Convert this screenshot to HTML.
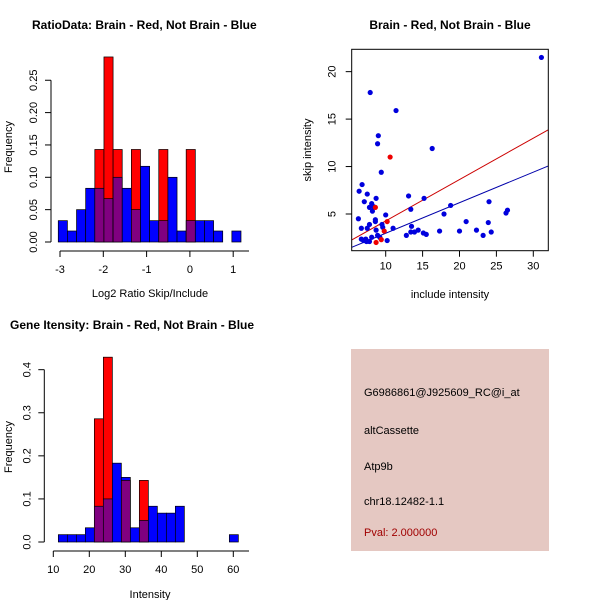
<!DOCTYPE html>
<html><head><meta charset="utf-8"><style>
body{margin:0;background:#fff}
svg{display:block;font-family:"Liberation Sans",Arial,sans-serif}
</style></head><body>
<svg id="c" width="600" height="600">
<g id="p1"></g>
<g id="p2"></g>
<g id="p3"></g>
<g>
<rect x="351" y="349" width="198" height="202" fill="#e5c8c2"/>
<text x="364" y="396" font-size="11">G6986861@J925609_RC@i_at</text>
<text x="364" y="434" font-size="11">altCassette</text>
<text x="364" y="470" font-size="11">Atp9b</text>
<text x="364" y="505" font-size="11">chr18.12482-1.1</text>
<text x="364" y="536" font-size="11" fill="#a00000">Pval: 2.000000</text>
</g>
</svg>
<script>
// Ratio histogram data
const ratioStart = -3.04;
const ratioWidth = 0.211;
const ratioBlue = [0.033,0.017,0.05,0.083,0.083,0.067,0.10,0.083,0.05,0.117,0.033,0.033,0.10,0.017,0.033,0.033,0.033,0.017,0,0.017];
const ratioRed  = [0,0,0,0,0.143,0.286,0.143,0,0.143,0,0,0.143,0,0,0.143,0,0,0,0,0];
const ratioXTicks = [-3,-2,-1,0,1];
const ratioYTicks = ["0.00","0.05","0.10","0.15","0.20","0.25"];
// Intensity histogram data
const intStart = 11.4;
const intWidth = 2.5;
const intBlue = [0.017,0.017,0.017,0.033,0.083,0.10,0.183,0.15,0.033,0.05,0.083,0.067,0.067,0.083,0,0,0,0,0,0.017];
const intRed  = [0,0,0,0,0.286,0.429,0,0.143,0,0.143,0,0,0,0,0,0,0,0,0,0];
const intXTicks = [10,20,30,40,50,60];
const intYTicks = ["0.0","0.1","0.2","0.3","0.4"];
// Scatter data
const blueX = [31.1,7.9,11.4,9.0,8.9,16.3,9.4,6.8,6.4,7.5,7.1,8.7,13.1,15.2,24.0,18.8,8.1,8.3,7.8,8.2,13.4,17.9,10.0,26.3,26.5,6.3,8.6,8.6,20.9,23.9,7.8,9.5,9.6,13.5,11.0,6.7,7.5,8.7,14.4,22.3,17.3,20.0,24.3,13.9,13.4,15.1,15.5,12.8,23.2,8.9,8.1,9.2,6.7,7.3,7.4,7.8,10.2,7.0];
const blueY = [21.5,17.8,15.9,13.25,12.4,11.9,9.4,8.1,7.4,7.1,6.3,6.65,6.9,6.65,6.3,5.9,6.1,5.8,5.7,5.3,5.5,5.0,4.9,5.1,5.4,4.5,4.4,4.2,4.2,4.1,3.9,3.9,3.6,3.7,3.5,3.5,3.5,3.3,3.3,3.3,3.2,3.2,3.1,3.1,3.1,3.0,2.85,2.75,2.75,2.75,2.55,2.55,2.35,2.35,2.1,2.1,2.2,2.2];
const redX = [10.6,8.6,10.2,9.8,9.4,8.7];
const redY = [11.0,5.7,4.2,3.2,2.3,2.0];
const redFit = [-0.09,0.436];
const blueFit = [-0.25,0.322];
const scXTicks = [10,15,20,25,30];
const scYTicks = [5,10,15,20];

const NS="http://www.w3.org/2000/svg";
function mk(parent,tag,attrs,txt){const e=document.createElementNS(NS,tag);for(const k in attrs)e.setAttribute(k,attrs[k]);if(txt!==undefined)e.textContent=txt;parent.appendChild(e);return e;}

function hist(g,o){
  const sx=v=>o.x0+(v-o.v0)*o.kx, sy=v=>o.y0-v*o.ky;
  for(let i=0;i<o.blue.length;i++){
    const a=o.start+i*o.w, b=a+o.w, bl=o.blue[i], rd=o.red[i];
    const x=sx(a), wd=sx(b)-sx(a);
    const hi=Math.max(bl,rd), lo=Math.min(bl,rd);
    if(hi>0){
      const r=mk(g,'rect',{x:x,y:sy(hi),width:wd,height:sy(0)-sy(hi),fill:bl>=rd?'#0000ff':'#ff0000',stroke:'#000','stroke-width':0.7});
      
      
    }
    if(lo>0){
      const r=mk(g,'rect',{x:x,y:sy(lo),width:wd,height:sy(0)-sy(lo),fill:'#800080',stroke:'#000','stroke-width':0.7});
      
      
    }
  }
  const xa=mk(g,'g',{});
  
  
  const ay=o.y0+9;
  mk(xa,'line',{x1:sx(o.xt[0]),x2:sx(o.xt[o.xt.length-1]),y1:ay,y2:ay,stroke:'#000'});
  o.xt.forEach(t=>{mk(xa,'line',{x1:sx(t),x2:sx(t),y1:ay,y2:ay+6,stroke:'#000'});
    const l=mk(xa,'text',{x:sx(t),y:ay+22,'font-size':11,'text-anchor':'middle'},t);
    
    });
  mk(xa,'line',{x1:sx(o.xt[o.xt.length-1]),x2:o.xEnd,y1:ay,y2:ay,stroke:'#000'});
  const ya=mk(g,'g',{});
  
  
  const ax=o.x0-9;
  const yv=o.yt.map(Number);
  mk(ya,'line',{x1:ax,x2:ax,y1:sy(0),y2:sy(yv[yv.length-1]),stroke:'#000'});
  o.yt.forEach((t,i)=>{const y=sy(yv[i]);mk(ya,'line',{x1:ax-6,x2:ax,y1:y,y2:y,stroke:'#000'});
    const l=mk(ya,'text',{x:ax-14,y:y,'font-size':11,'text-anchor':'middle',transform:`rotate(-90 ${ax-14} ${y})`},t);
    
    });
}

const p1=document.getElementById('p1');
hist(p1,{x0:60,v0:-3,kx:43.3,y0:242,ky:647,start:ratioStart,w:ratioWidth,blue:ratioBlue,red:ratioRed,xt:ratioXTicks,yt:ratioYTicks,xEnd:249});
const p3=document.getElementById('p3');
hist(p3,{x0:53.3,v0:10,kx:3.6,y0:542,ky:430.8,start:intStart,w:intWidth,blue:intBlue,red:intRed,xt:intXTicks,yt:intYTicks,xEnd:249});

function txt(g,a,s,name){const t=mk(g,'text',a,s);return t;}
txt(p1,{x:32,y:29,'font-size':12,'font-weight':'bold'},'RatioData: Brain - Red, Not Brain - Blue','chart-title');
txt(p1,{x:150,y:297,'font-size':11,'text-anchor':'middle'},'Log2 Ratio Skip/Include','x-axis-title');
txt(p1,{x:12,y:147,'font-size':11,'text-anchor':'middle',transform:'rotate(-90 12 147)'},'Frequency','y-axis-title');
txt(p3,{x:10,y:329,'font-size':12,'font-weight':'bold'},'Gene Itensity: Brain - Red, Not Brain - Blue','chart-title');
txt(p3,{x:150,y:598,'font-size':11,'text-anchor':'middle'},'Intensity','x-axis-title');
txt(p3,{x:12,y:447,'font-size':11,'text-anchor':'middle',transform:'rotate(-90 12 447)'},'Frequency','y-axis-title');

// scatter
const p2=document.getElementById('p2');
const L=351.7,R=548.3,T=49.3,B=250.7;
const sx=v=>385.7+(v-10)*7.38, sy=v=>214-(v-5)*9.49;
txt(p2,{x:450,y:29,'font-size':12,'font-weight':'bold','text-anchor':'middle'},'Brain - Red, Not Brain - Blue','chart-title');
txt(p2,{x:450,y:298,'font-size':11,'text-anchor':'middle'},'include intensity','x-axis-title');
txt(p2,{x:311,y:150,'font-size':11,'text-anchor':'middle',transform:'rotate(-90 311 150)'},'skip intensity','y-axis-title');
const cp=mk(p2,'clipPath',{id:'clp'});mk(cp,'rect',{x:L,y:T,width:R-L,height:B-T});
const xl=5.4,xr=32.0;
const rl=mk(p2,'line',{x1:sx(xl),y1:sy(redFit[0]+redFit[1]*xl),x2:sx(xr),y2:sy(redFit[0]+redFit[1]*xr),stroke:'#cc0000','stroke-width':1,'clip-path':'url(#clp)'});


const bln=mk(p2,'line',{x1:sx(xl),y1:sy(blueFit[0]+blueFit[1]*xl),x2:sx(xr),y2:sy(blueFit[0]+blueFit[1]*xr),stroke:'#0000aa','stroke-width':1,'clip-path':'url(#clp)'});


for(let i=0;i<blueX.length;i++){const c=mk(p2,'circle',{cx:sx(blueX[i]),cy:sy(blueY[i]),r:2.6,fill:'#0000dd'});
  
  }
for(let i=0;i<redX.length;i++){const c=mk(p2,'circle',{cx:sx(redX[i]),cy:sy(redY[i]),r:2.6,fill:'#ee0000'});
  
  }
const box=mk(p2,'rect',{x:L,y:T,width:R-L,height:B-T,fill:'none',stroke:'#000'});


scXTicks.forEach(t=>{mk(p2,'line',{x1:sx(t),x2:sx(t),y1:B,y2:B+6,stroke:'#000'});
  txt(p2,{x:sx(t),y:B+19,'font-size':11,'text-anchor':'middle'},t,'x-tick-label');});
scYTicks.forEach(t=>{mk(p2,'line',{x1:L-6,x2:L,y1:sy(t),y2:sy(t),stroke:'#000'});
  txt(p2,{x:L-16,y:sy(t),'font-size':11,'text-anchor':'middle',transform:`rotate(-90 ${L-16} ${sy(t)})`},t,'y-tick-label');});
</script>
</body></html>
